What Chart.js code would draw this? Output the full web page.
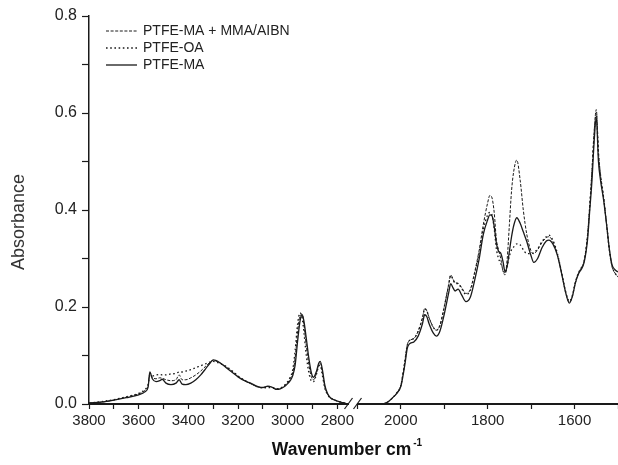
<!DOCTYPE html>
<html>
<head>
<meta charset="utf-8">
<script src="https://cdn.jsdelivr.net/npm/chart.js@4.4.0/dist/chart.umd.min.js"></script>
<style>
  html, body { margin: 0; padding: 0; background: #fff; }
</style>
</head>
<body>
<canvas id="ir-chart" width="618" height="465"></canvas>
<script>
// wavenumber grids (cm-1) for the two parts of the broken axis
const wnHigh = [3800, 3750, 3700, 3650, 3600, 3575, 3562, 3555, 3545, 3530, 3515, 3505, 3490, 3470, 3450, 3437, 3425, 3410, 3390, 3370,
                3350, 3330, 3310, 3300, 3290, 3270, 3250, 3220, 3200, 3170, 3150, 3120, 3100, 3080, 3060, 3045, 3030, 3010, 3000, 2990,
                2980, 2970, 2960, 2950, 2942, 2935, 2925, 2915, 2905, 2896, 2885, 2875, 2869, 2860, 2850, 2840, 2830, 2815, 2800, 2780, 2765];
const wnLow = [2040, 2030, 2020, 2010, 2000, 1995, 1990, 1985, 1980, 1970, 1960, 1950, 1945, 1940, 1935, 1925, 1918, 1910, 1900, 1890,
               1885, 1880, 1875, 1868, 1860, 1850, 1840, 1830, 1820, 1810, 1800, 1795, 1790, 1785, 1780, 1775, 1770, 1765, 1760, 1755,
               1750, 1745, 1740, 1733, 1725, 1718, 1710, 1700, 1694, 1685, 1675, 1665, 1659, 1650, 1640, 1630, 1620, 1612, 1605, 1598,
               1590, 1585, 1578, 1570, 1565, 1560, 1555, 1550, 1545, 1540, 1533, 1525, 1520, 1514, 1507, 1500];

// PTFE-MA (solid)
const maHigh = [0.002, 0.004, 0.008, 0.013, 0.019, 0.025, 0.035, 0.066, 0.052, 0.046, 0.048, 0.051, 0.043, 0.040, 0.043, 0.050, 0.041, 0.040, 0.043, 0.050,
                0.060, 0.073, 0.086, 0.091, 0.090, 0.084, 0.076, 0.064, 0.056, 0.047, 0.043, 0.036, 0.034, 0.037, 0.034, 0.030, 0.031, 0.037, 0.042, 0.048,
                0.058, 0.080, 0.130, 0.172, 0.184, 0.172, 0.135, 0.095, 0.065, 0.055, 0.066, 0.084, 0.088, 0.070, 0.038, 0.022, 0.014, 0.009, 0.006, 0.003, 0.001];
const maLow = [0.000, 0.004, 0.012, 0.021, 0.036, 0.058, 0.085, 0.115, 0.124, 0.128, 0.140, 0.166, 0.184, 0.180, 0.166, 0.146, 0.140, 0.150, 0.185, 0.228,
               0.248, 0.240, 0.233, 0.237, 0.225, 0.211, 0.220, 0.255, 0.297, 0.350, 0.380, 0.390, 0.388, 0.366, 0.332, 0.315, 0.311, 0.295, 0.273, 0.285,
               0.315, 0.345, 0.368, 0.384, 0.372, 0.355, 0.335, 0.305, 0.292, 0.300, 0.322, 0.336, 0.338, 0.330, 0.308, 0.270, 0.228, 0.208, 0.222, 0.250,
               0.270, 0.277, 0.292, 0.340, 0.400, 0.460, 0.540, 0.592, 0.500, 0.460, 0.420, 0.360, 0.320, 0.288, 0.277, 0.272];

// PTFE-OA (dotted)
const oaHigh = [0.002, 0.005, 0.009, 0.015, 0.022, 0.030, 0.040, 0.058, 0.058, 0.060, 0.061, 0.060, 0.060, 0.062, 0.063, 0.066, 0.066, 0.068, 0.071, 0.075,
                0.079, 0.083, 0.087, 0.088, 0.087, 0.083, 0.078, 0.067, 0.058, 0.048, 0.043, 0.035, 0.033, 0.034, 0.033, 0.031, 0.033, 0.040, 0.046, 0.055,
                0.070, 0.110, 0.165, 0.188, 0.178, 0.150, 0.100, 0.065, 0.048, 0.046, 0.060, 0.078, 0.080, 0.058, 0.032, 0.020, 0.013, 0.009, 0.006, 0.003, 0.001];
const oaLow = [0.000, 0.004, 0.012, 0.022, 0.038, 0.062, 0.092, 0.122, 0.131, 0.135, 0.150, 0.178, 0.196, 0.192, 0.178, 0.158, 0.152, 0.162, 0.200, 0.245,
               0.265, 0.257, 0.249, 0.248, 0.238, 0.226, 0.234, 0.268, 0.310, 0.360, 0.390, 0.395, 0.390, 0.362, 0.320, 0.300, 0.290, 0.278, 0.270, 0.285,
               0.305, 0.318, 0.324, 0.330, 0.328, 0.318, 0.310, 0.310, 0.312, 0.320, 0.335, 0.345, 0.348, 0.338, 0.312, 0.272, 0.230, 0.212, 0.224, 0.252,
               0.272, 0.280, 0.294, 0.348, 0.408, 0.478, 0.556, 0.600, 0.515, 0.470, 0.425, 0.360, 0.318, 0.285, 0.270, 0.262];

// PTFE-MA + MMA/AIBN (dashed)
const mmaHigh = [0.002, 0.004, 0.008, 0.014, 0.021, 0.028, 0.038, 0.063, 0.055, 0.052, 0.054, 0.053, 0.050, 0.048, 0.050, 0.060, 0.050, 0.050, 0.054, 0.060,
                 0.068, 0.078, 0.087, 0.090, 0.089, 0.084, 0.077, 0.066, 0.057, 0.047, 0.042, 0.035, 0.034, 0.036, 0.034, 0.031, 0.032, 0.039, 0.044, 0.052,
                 0.064, 0.095, 0.150, 0.182, 0.185, 0.165, 0.120, 0.082, 0.056, 0.050, 0.062, 0.080, 0.084, 0.064, 0.035, 0.021, 0.014, 0.009, 0.006, 0.003, 0.001];
const mmaLow = [0.000, 0.004, 0.012, 0.022, 0.038, 0.062, 0.092, 0.122, 0.131, 0.135, 0.150, 0.178, 0.197, 0.192, 0.178, 0.158, 0.152, 0.162, 0.200, 0.245,
                0.266, 0.258, 0.250, 0.249, 0.240, 0.228, 0.236, 0.272, 0.315, 0.370, 0.415, 0.430, 0.425, 0.395, 0.340, 0.318, 0.300, 0.275, 0.266, 0.300,
                0.370, 0.440, 0.480, 0.503, 0.460, 0.400, 0.350, 0.315, 0.310, 0.318, 0.333, 0.343, 0.345, 0.335, 0.310, 0.270, 0.228, 0.210, 0.222, 0.250,
                0.272, 0.280, 0.295, 0.350, 0.410, 0.480, 0.560, 0.607, 0.520, 0.470, 0.425, 0.360, 0.320, 0.285, 0.270, 0.262];

const seriesNames = ['PTFE-MA + MMA/AIBN', 'PTFE-OA', 'PTFE-MA'];
const xTicksHigh = [3800, 3700, 3600, 3500, 3400, 3300, 3200, 3100, 3000, 2900, 2800];
const xTicksLow = [2100, 2000, 1900, 1800, 1700, 1600, 1500];
const xTickLabelsHigh = [3800, 3600, 3400, 3200, 3000, 2800];
const xTickLabelsLow = [2000, 1800, 1600];
const yTickLabels = [0.0, 0.2, 0.4, 0.6, 0.8];

const highRange = [2737, 3800];
const lowRange = [1500, 2110];

const ink = '#1a1a1a';
const fontFam = '"Liberation Sans", Arial, Helvetica, sans-serif';

function pts(xs, ys) {
    return xs.map((x, i) => ({ x: x, y: ys[i] }));
}

const styles = [
    { dash: [3, 1.6], width: 1 },
    { dash: [1.6, 2.6], width: 1.3 },
    { dash: [], width: 1.3 }
];

function makeSet(name, idx, xs, ys, axis) {
    return {
        label: name,
        data: pts(xs, ys),
        xAxisID: axis,
        borderColor: ink,
        borderWidth: styles[idx].width,
        borderDash: styles[idx].dash,
        pointRadius: 0,
        fill: false,
        cubicInterpolationMode: 'monotone'
    };
}

const datasets = [
    makeSet(seriesNames[0], 0, wnHigh, mmaHigh, 'xHigh'),
    makeSet(seriesNames[1], 1, wnHigh, oaHigh, 'xHigh'),
    makeSet(seriesNames[2], 2, wnHigh, maHigh, 'xHigh'),
    makeSet(seriesNames[0], 0, wnLow, mmaLow, 'xLow'),
    makeSet(seriesNames[1], 1, wnLow, oaLow, 'xLow'),
    makeSet(seriesNames[2], 2, wnLow, maLow, 'xLow')
];

function xAxis(range, tickVals, labels, weight) {
    return {
        type: 'linear',
        position: 'bottom',
        stack: 'wavenumber',
        stackWeight: weight,
        reverse: true,
        min: range[0],
        max: range[1],
        afterBuildTicks: function(scale) {
            scale.ticks = tickVals.filter(v => v >= range[0] && v <= range[1]).map(v => ({ value: v }));
        },
        afterFit: function(scale) {
            scale.height = 61;
            scale.paddingLeft = 0;
            scale.paddingRight = 0;
        },
        border: { color: ink, width: 2 },
        grid: { drawOnChartArea: false, drawTicks: true, tickLength: 5, color: ink, tickWidth: 1.2 },
        ticks: {
            autoSkip: false,
            maxRotation: 0,
            padding: 3,
            color: '#222',
            font: { family: fontFam, size: 15 },
            callback: function(v) { return labels.includes(v) ? String(v) : ''; }
        }
    };
}

const decorations = {
    id: 'decorations',
    afterDraw(chart) {
        const ctx = chart.ctx;
        const area = chart.chartArea;
        const bx = chart.scales.xHigh.right;
        const by = area.bottom;
        ctx.save();

        // axis break
        ctx.fillStyle = '#fff';
        ctx.fillRect(bx - 4, by - 2, 8, 4);
        ctx.strokeStyle = ink;
        ctx.lineWidth = 1.2;
        [-4.5, 4.5].forEach(function(off) {
            ctx.beginPath();
            ctx.moveTo(bx + off - 4, by + 5);
            ctx.lineTo(bx + off + 4, by - 6);
            ctx.stroke();
        });

        // legend
        ctx.font = '14px ' + fontFam;
        ctx.textBaseline = 'middle';
        ctx.fillStyle = '#222';
        for (let i = 0; i < 3; i++) {
            const ds = chart.data.datasets[i];
            const y = area.top + 15 + i * 17;
            ctx.beginPath();
            ctx.setLineDash(ds.borderDash);
            ctx.lineWidth = ds.borderWidth;
            ctx.strokeStyle = ink;
            ctx.moveTo(area.left + 17, y);
            ctx.lineTo(area.left + 48, y);
            ctx.stroke();
            ctx.setLineDash([]);
            ctx.fillText(ds.label, area.left + 54, y + 0.5);
        }

        // x title with superscript
        ctx.textBaseline = 'alphabetic';
        ctx.font = 'bold 17.5px ' + fontFam;
        const main = 'Wavenumber cm';
        const w = ctx.measureText(main).width;
        const cx = (area.left + area.right) / 2 - 12;
        const tx = cx - w / 2;
        ctx.fillStyle = '#111';
        ctx.fillText(main, tx, 455);
        ctx.font = 'bold 10px ' + fontFam;
        ctx.fillText('-1', tx + w + 2, 446);

        // y title
        ctx.font = '18px ' + fontFam;
        ctx.fillStyle = '#333';
        ctx.textAlign = 'center';
        ctx.translate(24, 222);
        ctx.rotate(-Math.PI / 2);
        ctx.fillText('Absorbance', 0, 0);
        ctx.restore();
    }
};

new Chart(document.getElementById('ir-chart').getContext('2d'), {
    type: 'line',
    data: { datasets: datasets },
    options: {
        responsive: false,
        animation: false,
        layout: { padding: { top: 16, right: 0, left: 0, bottom: 0 } },
        plugins: { legend: { display: false }, tooltip: { enabled: false } },
        scales: {
            xHigh: xAxis(highRange, xTicksHigh, xTickLabelsHigh, 264),
            xLow: xAxis(lowRange, xTicksLow, xTickLabelsLow, 265),
            y: {
                type: 'linear',
                position: 'left',
                min: 0,
                max: 0.8,
                afterFit: function(scale) { scale.width = 89; },
                border: { color: ink, width: 1.5 },
                grid: { drawOnChartArea: false, drawTicks: true, tickLength: 7, color: ink, tickWidth: 1.2 },
                ticks: {
                    stepSize: 0.1,
                    padding: 5,
                    color: '#222',
                    font: { family: fontFam, size: 16 },
                    callback: function(v) {
                        const r = Math.round(v * 10) / 10;
                        return yTickLabels.some(t => Math.abs(t - r) < 1e-6) && Math.abs(v - r) < 1e-6 ? r.toFixed(1) : '';
                    }
                }
            }
        }
    },
    plugins: [decorations]
});
</script>
</body>
</html>
